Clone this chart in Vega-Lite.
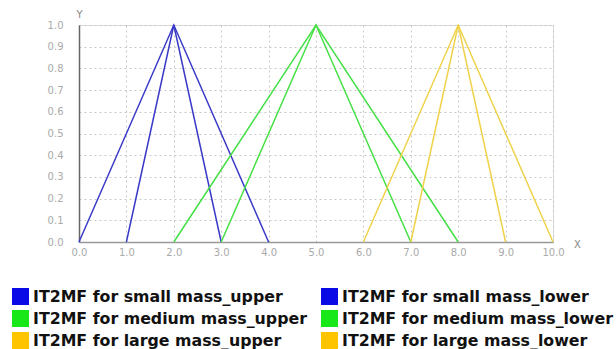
{
  "$schema": "https://vega.github.io/schema/vega-lite/v6.json",
  "autosize": "none",
  "width": 474,
  "height": 217,
  "padding": {"left": 79, "top": 25, "right": 63, "bottom": 107},
  "background": "white",
  "data": {"values": [
    {"s": "IT2MF for small mass_upper", "i": 1, "x": 0, "y": 0},
    {"s": "IT2MF for small mass_upper", "i": 2, "x": 2, "y": 1},
    {"s": "IT2MF for small mass_upper", "i": 3, "x": 4, "y": 0},
    {"s": "IT2MF for small mass_lower", "i": 1, "x": 1, "y": 0},
    {"s": "IT2MF for small mass_lower", "i": 2, "x": 2, "y": 1},
    {"s": "IT2MF for small mass_lower", "i": 3, "x": 3, "y": 0},
    {"s": "IT2MF for medium mass_upper", "i": 1, "x": 2, "y": 0},
    {"s": "IT2MF for medium mass_upper", "i": 2, "x": 5, "y": 1},
    {"s": "IT2MF for medium mass_upper", "i": 3, "x": 8, "y": 0},
    {"s": "IT2MF for medium mass_lower", "i": 1, "x": 3, "y": 0},
    {"s": "IT2MF for medium mass_lower", "i": 2, "x": 5, "y": 1},
    {"s": "IT2MF for medium mass_lower", "i": 3, "x": 7, "y": 0},
    {"s": "IT2MF for large mass_upper", "i": 1, "x": 6, "y": 0},
    {"s": "IT2MF for large mass_upper", "i": 2, "x": 8, "y": 1},
    {"s": "IT2MF for large mass_upper", "i": 3, "x": 10, "y": 0},
    {"s": "IT2MF for large mass_lower", "i": 1, "x": 7, "y": 0},
    {"s": "IT2MF for large mass_lower", "i": 2, "x": 8, "y": 1},
    {"s": "IT2MF for large mass_lower", "i": 3, "x": 9, "y": 0}
  ]},
  "mark": {"type": "line", "strokeWidth": 1.5},
  "encoding": {
    "x": {
      "field": "x", "type": "quantitative",
      "scale": {"domain": [0, 10], "nice": false, "zero": false},
      "axis": {
        "values": [0,1,2,3,4,5,6,7,8,9,10], "format": ".1f", "labelFlush": false, "labelOverlap": false,
        "title": "X", "titleX": 498, "titleY": 2, "titleAlign": "center", "titleBaseline": "middle",
        "titleFont": "DejaVu Sans", "titleFontSize": 10, "titleFontWeight": "normal", "titleColor": "#888",
        "labelFont": "DejaVu Sans", "labelFontSize": 10, "labelColor": "#aaa", "labelPadding": 5,
        "ticks": false, "domainColor": "#999", "domainWidth": 1.5,
        "grid": true, "gridDash": [2, 3], "gridColor": "#c8c8c8"
      }
    },
    "y": {
      "field": "y", "type": "quantitative",
      "scale": {"domain": [0, 1], "nice": false},
      "axis": {
        "values": [0,0.1,0.2,0.3,0.4,0.5,0.6,0.7,0.8,0.9,1], "format": ".1f", "labelFlush": false, "labelOverlap": false,
        "title": "Y", "titleAngle": 0, "titleX": 0, "titleY": -11, "titleAlign": "center", "titleBaseline": "middle",
        "titleFont": "DejaVu Sans", "titleFontSize": 10, "titleFontWeight": "normal", "titleColor": "#888",
        "labelFont": "DejaVu Sans", "labelFontSize": 10, "labelColor": "#aaa", "labelPadding": 16,
        "ticks": false, "domainColor": "#666", "domainWidth": 1.5,
        "grid": true, "gridDash": [2, 3], "gridColor": "#c8c8c8"
      }
    },
    "order": {"field": "i", "type": "quantitative"},
    "color": {
      "field": "s", "type": "nominal",
      "scale": {
        "domain": ["IT2MF for small mass_upper", "IT2MF for medium mass_upper", "IT2MF for large mass_upper", "IT2MF for small mass_lower", "IT2MF for medium mass_lower", "IT2MF for large mass_lower"],
        "range": ["#3a3ac8", "#44e044", "#f0d24a", "#3a3ac8", "#44e044", "#f0d24a"]
      },
      "legend": {
        "title": null, "orient": "none", "legendX": -67, "legendY": 263,
        "columns": 2, "columnPadding": 14, "rowPadding": 5,
        "symbolType": "square", "symbolSize": 289, "symbolStrokeWidth": 0,
        "labelFont": "DejaVu Sans", "labelFontSize": 15.8, "labelFontWeight": "bold", "labelColor": "#111", "labelOffset": 4,
        "labelLimit": 400,
        "encode": {"symbols": {"update": {
          "fill": {"signal": "indexof(datum.value, 'small') >= 0 ? '#0a0ae6' : indexof(datum.value, 'medium') >= 0 ? '#18e818' : '#ffc400'"},
          "stroke": {"value": "transparent"},
          "opacity": {"value": 1}
        }}}
      }
    }
  }
}
